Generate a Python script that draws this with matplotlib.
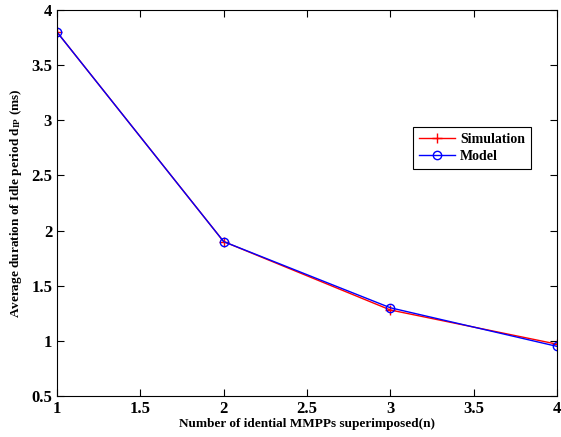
import matplotlib
matplotlib.use("Agg")
import matplotlib.pyplot as plt

n_mmpp = [1, 2, 3, 4]
simulation = [3.80, 1.90, 1.28, 0.97]
model = [3.80, 1.90, 1.30, 0.95]

x_ticks = [1, 1.5, 2, 2.5, 3, 3.5, 4]
y_ticks = [0.5, 1, 1.5, 2, 2.5, 3, 3.5, 4]

plt.rcParams["font.family"] = ["Liberation Serif", "DejaVu Serif"]
plt.rcParams["font.weight"] = "bold"
plt.rcParams["mathtext.fontset"] = "custom"
plt.rcParams["mathtext.rm"] = "Liberation Serif:bold"
plt.rcParams["mathtext.bf"] = "Liberation Serif:bold"
plt.rcParams["mathtext.it"] = "Liberation Serif:bold"

fig = plt.figure(figsize=(5.61, 4.37), dpi=100)
ax = fig.add_axes([57 / 561, 41 / 437, 500 / 561, 386 / 437])

ax.plot(n_mmpp, simulation, color="red", marker="+", markersize=7,
        linewidth=1, label="Simulation")
ax.plot(n_mmpp, model, color="blue", marker="o", markersize=6,
        markerfacecolor="none", linewidth=1, label="Model")

ax.set_xlim(1, 4)
ax.set_ylim(0.5, 4)
ax.set_xticks(x_ticks)
ax.set_xticklabels([f"{t:g}" for t in x_ticks], fontweight="bold")
ax.set_yticks(y_ticks)
ax.set_yticklabels([f"{t:g}" for t in y_ticks], fontweight="bold")
ax.tick_params(direction="in", labelsize=12, length=5, top=True, right=True)
for s in ax.spines.values():
    s.set_linewidth(0.8)

ax.set_xlabel("Number of idential MMPPs superimposed(n)", fontsize=9.5,
              fontweight="bold", labelpad=1)
ax.set_ylabel(r"Average duration of Idle period d$_{\mathrm{IP}}$ (ms)",
              fontsize=9.5, fontweight="bold", labelpad=5)

leg = ax.legend(loc="upper left", bbox_to_anchor=(0.712, 0.698),
                prop={"size": 10, "weight": "bold"},
                fancybox=False, edgecolor="black", framealpha=1,
                borderpad=0.45, handlelength=2.6, labelspacing=0.3,
                handletextpad=0.35, borderaxespad=0)
leg.get_frame().set_linewidth(0.8)

fig.savefig("out.png", dpi=100)
